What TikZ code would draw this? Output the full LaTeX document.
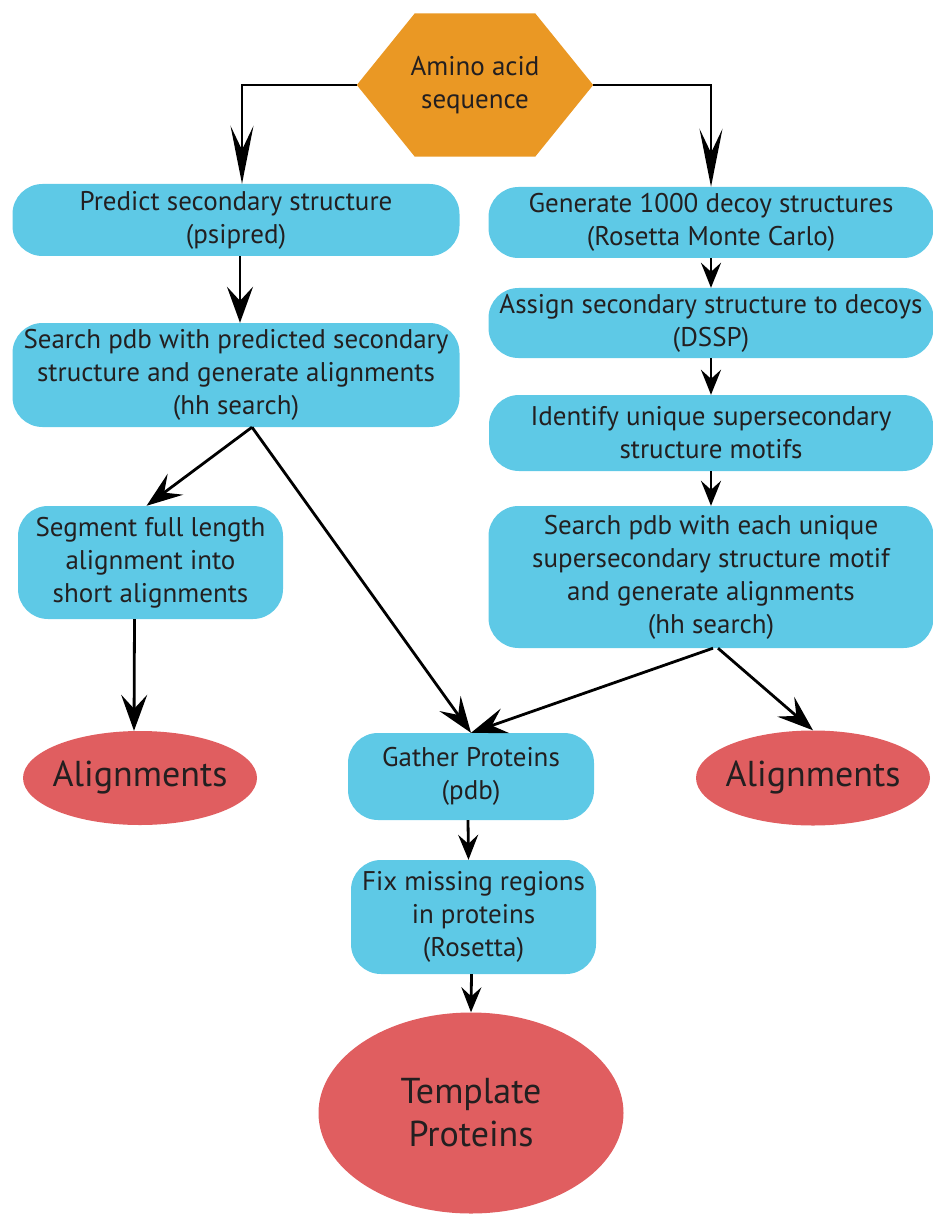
\documentclass[tikz,border=0pt]{standalone}
\usepackage{fontspec}
\setmainfont{PT Sans}
\usetikzlibrary{shapes.geometric,arrows.meta,backgrounds}
\definecolor{boxblue}{RGB}{94,201,230}
\definecolor{hexorange}{RGB}{234,152,36}
\definecolor{ovalred}{RGB}{224,94,96}
\definecolor{txtgray}{RGB}{35,31,32}

\begin{document}
\begin{tikzpicture}[x=1pt,y=-1pt,
	stepbox/.style={fill=boxblue, rounded corners=30pt, align=center, text=txtgray, inner sep=0pt, font=\fontsize{27}{33}\selectfont},
	result/.style={ellipse, fill=ovalred, align=center, text=txtgray, inner ysep=0pt, inner xsep=-12pt, font=\fontsize{36}{43}\selectfont},
	bigflow/.style={line width=2.8pt, -{Stealth[length=58pt,width=23pt,inset=24pt]}},
	flow/.style={line width=2.8pt, -{Stealth[length=36pt,width=26pt,inset=14pt]}},
	shortflow/.style={line width=2.8pt, -{Stealth[length=25pt,width=20pt,inset=9pt]}}]

	\useasboundingbox (0,0) rectangle (933,1214);

	\node (amino) [align=center, text=txtgray, inner sep=0pt, minimum width=236pt, minimum height=143pt, font=\fontsize{27}{33}\selectfont] at (475,85) {Amino acid\\sequence};
	\begin{scope}[on background layer]
		\fill [hexorange] (amino.west) -- ([xshift=58pt]amino.north west) -- ([xshift=-58pt]amino.north east) -- (amino.east) -- ([xshift=-58pt]amino.south east) -- ([xshift=58pt]amino.south west) -- cycle;
	\end{scope}

	% left branch
	\node (predict) [stepbox, minimum width=447pt, minimum height=72pt] at (236,220) {Predict secondary structure\\(psipred)};
	\node (searchL) [stepbox, minimum width=447pt, minimum height=104pt] at (236,375) {Search pdb with predicted secondary\\structure and generate alignments\\(hh search)};
	\node (segment) [stepbox, minimum width=265pt, minimum height=113pt] at (150.5,562.5) {Segment full length\\alignment into\\short alignments};
	\node (alignL) [result, minimum width=234pt, minimum height=94pt] at (140,778) {Alignments};

	% right branch
	\node (generate) [stepbox, minimum width=445pt, minimum height=71pt] at (711,222.5) {Generate 1000 decoy structures\\(Rosetta Monte Carlo)};
	\node (assign) [stepbox, minimum width=445pt, minimum height=70pt] at (711,323) {Assign secondary structure to decoys\\(DSSP)};
	\node (identify) [stepbox, minimum width=444pt, minimum height=76pt] at (711,433) {Identify unique supersecondary\\structure motifs};
	\node (searchR) [stepbox, minimum width=445pt, minimum height=142pt] at (711,577) {Search pdb with each unique\\supersecondary structure motif\\and generate alignments\\(hh search)};
	\node (alignR) [result, minimum width=234pt, minimum height=95pt] at (813,778) {Alignments};

	% merge
	\node (gather) [stepbox, minimum width=246pt, minimum height=87pt] at (471,776.5) {Gather Proteins\\(pdb)};
	\node (fix) [stepbox, minimum width=245pt, minimum height=114pt] at (473.5,917) {Fix missing regions\\in proteins\\(Rosetta)};
	\node (template) [result, minimum width=305pt, minimum height=201pt] at (471,1113) {Template\\Proteins};

	\draw [bigflow] (amino.west) -| ([xshift=6pt]predict.north);
	\draw [bigflow] (amino.east) -| (generate.north);

	\draw [flow] ([xshift=4pt]predict.south) -- ([xshift=4pt]searchL.north);
	\draw [flow] ([xshift=16pt]searchL.south) -- ([xshift=-4pt]segment.north);
	\draw [flow] ([xshift=16pt]searchL.south) -- (gather.north);
	\draw [flow] ([xshift=-16pt]segment.south) -- ([xshift=-6pt]alignL.north);

	\draw [shortflow] (generate.south) -- (assign.north);
	\draw [shortflow] (assign.south) -- (identify.north);
	\draw [shortflow] (identify.south) -- (searchR.north);
	\draw [flow] ([xshift=2pt]searchR.south) -- (gather.north);
	\draw [flow] ([xshift=7pt]searchR.south) -- (alignR.north);

	\draw [shortflow] ([xshift=-3pt]gather.south) -- ([xshift=-5pt]fix.north);
	\draw [shortflow] ([xshift=-2pt]fix.south) -- (template.north);

\end{tikzpicture}
\end{document}
